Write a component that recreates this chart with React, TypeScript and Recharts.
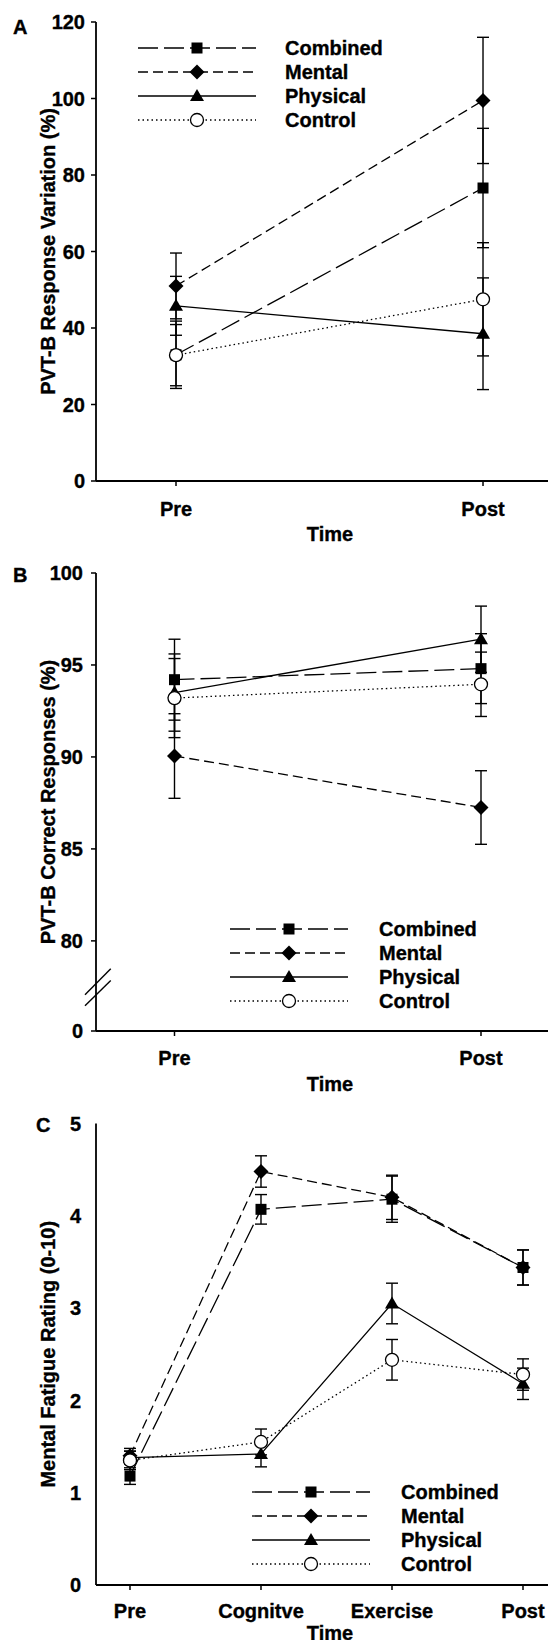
import React from "react";
import {
  LineChart,
  Line,
  XAxis,
  YAxis,
  ErrorBar,
  Legend,
  ReferenceLine,
} from "recharts";

const FONT = '"Liberation Sans", Arial, Helvetica, sans-serif';
const INK = "#000";
const HEAVY = 0.35; // thin outline so text reads as heavy as the scanned figure

// Panel A - PVT-B response variation
const A_TIMES = ["Pre", "Post"];
const A_COMBINED = [33.0, 76.6];
const A_COMBINED_ERR = [8.8, 15.6];
const A_MENTAL = [51.0, 99.5];
const A_MENTAL_ERR = [8.6, 16.5];
const A_PHYSICAL = [45.8, 38.5];
const A_PHYSICAL_ERR = [7.7, 14.6];
const A_CONTROL = [32.9, 47.5];
const A_CONTROL_ERR = [8.0, 14.8];
const A_TICKS = [0, 20, 40, 60, 80, 100, 120];

// Panel B - PVT-B correct responses (broken axis, bottom tick reads 0)
const B_TIMES = ["Pre", "Post"];
const B_COMBINED = [94.2, 94.8];
const B_COMBINED_ERR = [2.2, 1.9];
const B_MENTAL = [90.05, 87.25];
const B_MENTAL_ERR = [2.3, 2.0];
const B_PHYSICAL = [93.5, 96.4];
const B_PHYSICAL_ERR = [2.1, 1.8];
const B_CONTROL = [93.2, 93.95];
const B_CONTROL_ERR = [2.15, 1.75];
const B_BASE = 75.1;
const B_TICKS = [B_BASE, 80, 85, 90, 95, 100];

// Panel C - mental fatigue rating
const C_TIMES = ["Pre", "Cognitve", "Exercise", "Post"];
const C_COMBINED = [1.18, 4.07, 4.18, 3.44];
const C_COMBINED_ERR = [0.09, 0.16, 0.25, 0.19];
const C_MENTAL = [1.4, 4.48, 4.2, 3.44];
const C_MENTAL_ERR = [0.08, 0.17, 0.24, 0.19];
const C_PHYSICAL = [1.38, 1.42, 3.05, 2.18];
const C_PHYSICAL_ERR = [0.07, 0.14, 0.22, 0.17];
const C_CONTROL = [1.35, 1.55, 2.44, 2.28];
const C_CONTROL_ERR = [0.1, 0.14, 0.22, 0.17];
const C_TICKS = [0, 1, 2, 3, 4, 5];

const GROUPS = [
  { key: "combined", name: "Combined", dash: "20 6", marker: "square" },
  { key: "mental", name: "Mental", dash: "10 5", marker: "diamond" },
  { key: "physical", name: "Physical", dash: undefined, marker: "triangle" },
  { key: "control", name: "Control", dash: "1.5 3", marker: "circle" },
];

const buildRows = (times: string[], series: Record<string, [number[], number[]]>) =>
  times.map((t, i) => {
    const row: any = { pos: i, time: t };
    Object.entries(series).forEach(([k, [vals, errs]]) => {
      row[k] = vals[i];
      row[k + "Err"] = errs[i];
    });
    return row;
  });

const A_ROWS = buildRows(A_TIMES, {
  combined: [A_COMBINED, A_COMBINED_ERR],
  mental: [A_MENTAL, A_MENTAL_ERR],
  physical: [A_PHYSICAL, A_PHYSICAL_ERR],
  control: [A_CONTROL, A_CONTROL_ERR],
});
const B_ROWS = buildRows(B_TIMES, {
  combined: [B_COMBINED, B_COMBINED_ERR],
  mental: [B_MENTAL, B_MENTAL_ERR],
  physical: [B_PHYSICAL, B_PHYSICAL_ERR],
  control: [B_CONTROL, B_CONTROL_ERR],
});
const C_ROWS = buildRows(C_TIMES, {
  combined: [C_COMBINED, C_COMBINED_ERR],
  mental: [C_MENTAL, C_MENTAL_ERR],
  physical: [C_PHYSICAL, C_PHYSICAL_ERR],
  control: [C_CONTROL, C_CONTROL_ERR],
});

const Marker = ({ kind, cx, cy }: { kind: string; cx?: number; cy?: number }) => {
  if (cx == null || cy == null) return null;
  if (kind === "square") {
    return <rect x={cx - 5.5} y={cy - 5.5} width={11} height={11} fill={INK} />;
  }
  if (kind === "diamond") {
    const d = 7.5;
    return (
      <polygon
        points={`${cx},${cy - d} ${cx + d},${cy} ${cx},${cy + d} ${cx - d},${cy}`}
        fill={INK}
      />
    );
  }
  if (kind === "triangle") {
    return (
      <polygon
        points={`${cx},${cy - 7} ${cx + 7},${cy + 5} ${cx - 7},${cy + 5}`}
        fill={INK}
      />
    );
  }
  return <circle cx={cx} cy={cy} r={6.5} fill="#fff" stroke={INK} strokeWidth={1.3} />;
};

const LegendBox = ({ gap }: { gap: number }) => (
  <div
    style={{
      fontFamily: FONT,
      fontWeight: 700,
      fontSize: 20,
      color: INK,
      WebkitTextStroke: `${HEAVY}px ${INK}`,
    }}
  >
    {GROUPS.map((g) => (
      <div key={g.key} style={{ display: "flex", alignItems: "center", height: 24 }}>
        <svg width={118} height={20} style={{ display: "block" }}>
          <line
            x1={0}
            x2={118}
            y1={10}
            y2={10}
            stroke={INK}
            strokeWidth={1.3}
            strokeDasharray={g.dash}
          />
          <Marker kind={g.marker} cx={59} cy={10} />
        </svg>
        <span style={{ marginLeft: gap, lineHeight: "20px" }}>{g.name}</span>
      </div>
    ))}
  </div>
);

const YTitle = (props: any) => {
  const { viewBox, text, x } = props;
  const cy = viewBox.y + viewBox.height / 2;
  return (
    <text
      x={x}
      y={cy}
      transform={`rotate(-90 ${x} ${cy})`}
      textAnchor="middle"
      dominantBaseline="central"
      fontFamily={FONT}
      fontWeight={700}
      fontSize={20}
      fill={INK}
      stroke={INK}
      strokeWidth={HEAVY}
    >
      {text}
    </text>
  );
};

// baseline sits `drop` px below the bottom of the x-axis band
const XTitle = (props: any) => {
  const { viewBox, text, drop } = props;
  return (
    <text
      x={viewBox.x + viewBox.width / 2}
      y={viewBox.y + viewBox.height + drop}
      textAnchor="middle"
      fontFamily={FONT}
      fontWeight={700}
      fontSize={20}
      fill={INK}
      stroke={INK}
      strokeWidth={HEAVY}
    >
      {text}
    </text>
  );
};

const tickStyle = {
  fill: INK,
  fontSize: 20,
  fontWeight: 700,
  fontFamily: FONT,
  stroke: INK,
  strokeWidth: HEAVY,
};

type PanelProps = {
  letter: string;
  letterPos: { left: number; top: number };
  rows: any[];
  times: string[];
  height: number;
  top: number;
  bottom: number;
  xHeight: number;
  xDomain: [number, number];
  xTickMargin: number;
  yDomain: [number, number];
  yTicks: number[];
  yTickLine: boolean;
  yTickMargin: number;
  yFormat?: (v: number) => string;
  yTitle: string;
  yTitleX: number;
  titleDrop: number;
  legendPos: { left: number; top: number };
  legendGap: number;
  extra?: React.ReactNode;
};

const Panel = (p: PanelProps) => (
  <div style={{ position: "relative", width: 556, height: p.height, overflow: "hidden" }}>
    <LineChart
      width={564}
      height={p.height}
      data={p.rows}
      margin={{ top: p.top, right: 0, bottom: p.bottom, left: 0 }}
    >
      <XAxis
        type="number"
        dataKey="pos"
        domain={p.xDomain}
        allowDataOverflow
        ticks={p.times.map((_, i) => i)}
        interval={0}
        tickFormatter={(v: number) => p.times[v] ?? ""}
        height={p.xHeight}
        tick={tickStyle}
        tickSize={5}
        tickMargin={p.xTickMargin}
        axisLine={{ stroke: INK, strokeWidth: 1.8 }}
        tickLine={{ stroke: INK, strokeWidth: 1.5 }}
        label={<XTitle text="Time" drop={p.titleDrop} />}
      />
      <YAxis
        width={96}
        domain={p.yDomain}
        allowDataOverflow
        ticks={p.yTicks}
        interval={0}
        tickFormatter={p.yFormat}
        tick={tickStyle}
        tickSize={5}
        tickMargin={p.yTickMargin}
        axisLine={{ stroke: INK, strokeWidth: 1.8 }}
        tickLine={p.yTickLine ? { stroke: INK, strokeWidth: 1.5 } : false}
        label={<YTitle text={p.yTitle} x={p.yTitleX} />}
      />
      {p.extra}
      {GROUPS.map((g) => (
        <Line
          key={g.key}
          type="linear"
          dataKey={g.key}
          name={g.name}
          stroke={INK}
          strokeWidth={1.3}
          strokeDasharray={g.dash}
          isAnimationActive={false}
          activeDot={false}
          dot={(d: any) => <Marker key={`${g.key}-${d.index}`} kind={g.marker} cx={d.cx} cy={d.cy} />}
        >
          <ErrorBar
            dataKey={g.key + "Err"}
            direction="y"
            width={6}
            stroke={INK}
            strokeWidth={1.4}
            isAnimationActive={false}
          />
        </Line>
      ))}
      <Legend
        layout="vertical"
        align="center"
        verticalAlign="middle"
        wrapperStyle={{ left: p.legendPos.left, top: p.legendPos.top, width: "auto" }}
        content={() => <LegendBox gap={p.legendGap} />}
      />
    </LineChart>
    <div
      style={{
        position: "absolute",
        left: p.letterPos.left,
        top: p.letterPos.top,
        fontFamily: FONT,
        fontWeight: 700,
        fontSize: 20,
        lineHeight: "20px",
        color: INK,
        WebkitTextStroke: `${HEAVY}px ${INK}`,
      }}
    >
      {p.letter}
    </div>
  </div>
);

// axis break decoration for panel B (data units on the Pre/Post axis)
const BREAK_SLASHES = [
  [{ x: -0.292, y: 77.07 }, { x: -0.208, y: 78.48 }],
  [{ x: -0.292, y: 76.47 }, { x: -0.208, y: 77.84 }],
];
const BREAK_GAP = [{ x: -0.2561, y: 77.66 }, { x: -0.2561, y: 77.07 }];

export default function App() {
  return (
    <div style={{ margin: -8, width: 556, background: "#fff" }}>
      <Panel
        letter="A"
        letterPos={{ left: 13, top: 17 }}
        rows={A_ROWS}
        times={A_TIMES}
        height={545}
        top={22}
        bottom={5}
        xHeight={59}
        xDomain={[-0.2606, 1.2638]}
        xTickMargin={16}
        yDomain={[0, 120]}
        yTicks={A_TICKS}
        yTickLine
        yTickMargin={6}
        yTitle="PVT-B Response Variation (%)"
        yTitleX={20}
        titleDrop={1}
        legendPos={{ left: 138, top: 36 }}
        legendGap={29}
      />
      <Panel
        letter="B"
        letterPos={{ left: 13, top: 20 }}
        rows={B_ROWS}
        times={B_TIMES}
        height={550}
        top={28}
        bottom={5}
        xHeight={59}
        xDomain={[-0.2561, 1.2708]}
        xTickMargin={15}
        yDomain={[B_BASE, 100]}
        yTicks={B_TICKS}
        yTickLine
        yTickMargin={8}
        yFormat={(v: number) => (v === B_BASE ? "0" : String(v))}
        yTitle="PVT-B Correct Responses (%)"
        yTitleX={20}
        titleDrop={1}
        legendPos={{ left: 230, top: 372 }}
        legendGap={31}
        extra={[
          <ReferenceLine
            key="gap"
            segment={BREAK_GAP}
            stroke="#fff"
            strokeWidth={4}
            ifOverflow="visible"
          />,
          ...BREAK_SLASHES.map((s, i) => (
            <ReferenceLine
              key={`slash-${i}`}
              segment={s}
              stroke={INK}
              strokeWidth={1.4}
              ifOverflow="visible"
            />
          )),
        ]}
      />
      <Panel
        letter="C"
        letterPos={{ left: 36, top: 20 }}
        rows={C_ROWS}
        times={C_TIMES}
        height={553}
        top={28.5}
        bottom={3}
        xHeight={60}
        xDomain={[-0.2595, 3.313]}
        xTickMargin={14}
        yDomain={[0, 5]}
        yTicks={C_TICKS}
        yTickLine={false}
        yTickMargin={10}
        yTitle="Mental Fatigue Rating (0-10)"
        yTitleX={41}
        titleDrop={-5}
        legendPos={{ left: 252, top: 385 }}
        legendGap={31}
      />
    </div>
  );
}
